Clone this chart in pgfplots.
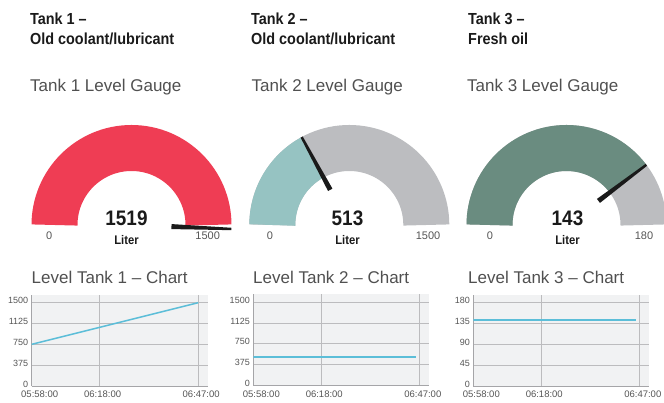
\documentclass[border=0pt]{standalone}
\usepackage{pgfplots}
\pgfplotsset{compat=1.18}
\usepackage{fontspec}
\setmainfont{Liberation Sans}
\newfontfamily\condb[FakeStretch=0.9]{Liberation Sans}
\definecolor{gred}{RGB}{239,61,84}
\definecolor{gteal}{RGB}{150,195,194}
\definecolor{ggrey}{RGB}{188,189,192}
\definecolor{ggreen}{RGB}{106,140,128}
\definecolor{needle}{RGB}{26,26,26}
\definecolor{lblue}{RGB}{92,190,216}
\definecolor{bgc}{RGB}{241,242,243}
\definecolor{gridc}{RGB}{188,188,190}
\definecolor{axc}{RGB}{165,165,168}
\definecolor{txt}{RGB}{85,85,85}
\definecolor{sub}{RGB}{80,80,80}
\pgfplotsset{
  gauge/.style={hide axis, x=1pt, y=1pt, xmin=-100, xmax=100, ymin=0, ymax=100, clip=false, anchor=origin},
  lc/.style={
    scale only axis, width=176pt, height=91pt, xmin=0, xmax=51.8, ymin=0,
    anchor=south west,
    axis background/.style={fill=bgc},
    axis x line*=bottom, axis y line*=left,
    axis line style={-, axc, line width=0.9pt},
    xmajorgrids, ymajorgrids, grid style={gridc, line width=0.7pt},
    major tick length=0pt,
    xtick={20,49}, xticklabels={06:18:00,06:47:00},
    extra x ticks={0}, extra x tick labels={05:58:00},
    extra x tick style={grid=none, xticklabel style={xshift=5pt}},
    x tick label style={font=\fontsize{9.5}{10}\selectfont, text=txt, xshift=3pt, yshift=-1.5pt},
    y tick label style={font=\fontsize{9}{10}\selectfont, text=txt, yshift=2pt},
    /pgf/number format/assume math mode=true,
    /pgf/number format/1000 sep={},
    scaled y ticks=false,
  }
}
\pgfplotstableread{
t v
0 513
47.8 513
}\tanktwo
\begin{document}
\begin{tikzpicture}
\path[use as bounding box] (0,0) rectangle (664pt,403pt);

% ---- headings
\foreach \x/\a/\b in {30/Tank 1 –/Old coolant\slash lubricant, 251/Tank 2 –/Old coolant\slash lubricant, 468/Tank 3 –/Fresh oil}{
  \node[anchor=base west, inner sep=0, text=needle] at (\x pt, 378pt) {\condb\bfseries\fontsize{16}{19}\selectfont \a};
  \node[anchor=base west, inner sep=0, text=needle] at (\x pt, 358pt) {\condb\bfseries\fontsize{16}{19}\selectfont \b};
}
\node[anchor=base west, inner sep=0, text=sub] at (30pt, 311pt) {\fontsize{17}{20}\selectfont Tank 1 Level Gauge};
\node[anchor=base west, inner sep=0, text=sub] at (251.5pt, 311pt) {\fontsize{17}{20}\selectfont Tank 2 Level Gauge};
\node[anchor=base west, inner sep=0, text=sub] at (467pt, 311pt) {\fontsize{17}{20}\selectfont Tank 3 Level Gauge};
\node[anchor=base west, inner sep=0, text=sub] at (31.5pt, 119.7pt) {\fontsize{17}{20}\selectfont Level Tank 1 – Chart};
\node[anchor=base west, inner sep=0, text=sub] at (253pt, 119.7pt) {\fontsize{17}{20}\selectfont Level Tank 2 – Chart};
\node[anchor=base west, inner sep=0, text=sub] at (468pt, 119.7pt) {\fontsize{17}{20}\selectfont Level Tank 3 – Chart};

% ---- gauge 1 (1519 of 1500)
\begin{axis}[gauge, at={(131.5pt,178pt)}]
  \draw[gred, line width=46pt] (axis cs:-77,0) arc[start angle=180, end angle=0, radius=77pt];
  \addplot[fill=needle, draw=none] coordinates {(40.07,0.91) (99.97,-2.78) (99.87,-5.18) (39.87,-4.09)} -- cycle;
\end{axis}
% ---- gauge 2 (513 of 1500)
\begin{axis}[gauge, at={(349.3pt,178pt)}]
  \draw[ggrey, line width=46pt] (axis cs:-77,0) arc[start angle=180, end angle=0, radius=77pt];
  \draw[gteal, line width=46pt] (axis cs:-77,0) arc[start angle=180, end angle=118.44, radius=77pt];
  \addplot[fill=needle, draw=none] coordinates {(-21.25,33.99) (-48.68,87.37) (-46.57,88.51) (-16.85,36.37)} -- cycle;
\end{axis}
% ---- gauge 3 (143 of 180)
\begin{axis}[gauge, at={(566.5pt,178pt)}]
  \draw[ggrey, line width=46pt] (axis cs:-77,0) arc[start angle=180, end angle=0, radius=77pt];
  \draw[ggreen, line width=46pt] (axis cs:-77,0) arc[start angle=180, end angle=37, radius=77pt];
  \addplot[fill=needle, draw=none] coordinates {(30.44,26.07) (79.14,61.14) (80.58,59.22) (33.45,22.08)} -- cycle;
\end{axis}

% gauge texts
\foreach \x/\v in {126.5/1519, 347.5/513, 567.5/143}{
  \node[anchor=base, inner sep=0, text=needle] at (\x pt, 177pt) {\condb\bfseries\fontsize{21}{24}\selectfont \v};
  \node[anchor=base, inner sep=0, text=needle] at (\x pt, 158pt) {\condb\bfseries\fontsize{12.5}{14}\selectfont Liter};
}
\foreach \x/\v in {49.3/0, 207.7/1500, 270/0, 428/1500, 490/0, 644/180}{
  \node[anchor=base, inner sep=0, text=txt] at (\x pt, 163.7pt) {\fontsize{11}{12}\selectfont \v};
}

% ---- line charts
\begin{axis}[lc, at={(31.7pt,17pt)}, ymax=1638.7, ytick={0,375,750,1125,1500}]
  \addplot[lblue, line width=1.5pt] coordinates {(0,750) (49,1500)};
\end{axis}
\begin{axis}[lc, at={(253.3pt,17.5pt)}, ymax=1638.7, ytick={0,375,750,1125,1500}]
  \addplot[draw=lblue, line width=1.5pt, mark=none] table[x=t, y=v] {\tanktwo};
\end{axis}
\begin{axis}[lc, at={(473.3pt,17pt)}, ymax=196.6, ytick={0,45,90,135,180}]
  \addplot[lblue, line width=1.5pt] coordinates {(0,143) (47.9,143)};
\end{axis}
\end{tikzpicture}
\end{document}
